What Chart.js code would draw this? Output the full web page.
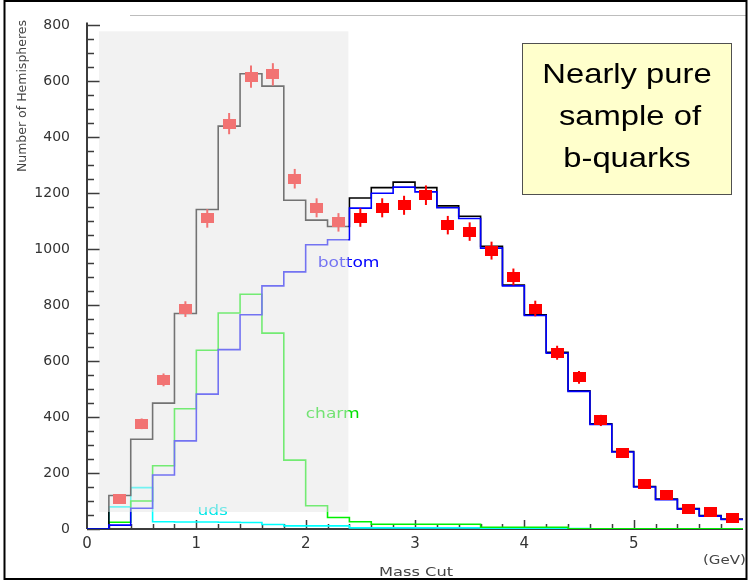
<!DOCTYPE html>
<html>
<head>
<meta charset="utf-8">
<script src="https://cdn.jsdelivr.net/npm/chart.js@4.4.1/dist/chart.umd.min.js"></script>
<style>
  html, body { margin: 0; padding: 0; background: #fff; }
  #wrap { width: 750px; height: 584px; }
</style>
</head>
<body>
<div id="wrap"><canvas id="massChart" width="750" height="584"></canvas></div>
<script>
// lower edges of the 0.2 GeV mass-cut bins, and the bin centres for the data points
const binEdges = [0.2, 0.4, 0.6, 0.8, 1.0, 1.2, 1.4, 1.6, 1.8, 2.0, 2.2, 2.4, 2.6, 2.8, 3.0,
                  3.2, 3.4, 3.6, 3.8, 4.0, 4.2, 4.4, 4.6, 4.8, 5.0, 5.2, 5.4, 5.6, 5.8];
const binCenters = [0.3, 0.5, 0.7, 0.9, 1.1, 1.3, 1.5, 1.7, 1.9, 2.1, 2.3, 2.5, 2.7, 2.9, 3.1,
                    3.3, 3.5, 3.7, 3.9, 4.1, 4.3, 4.5, 4.7, 4.9, 5.1, 5.3, 5.5, 5.7, 5.9];

// simulated histograms (hemispheres per bin)
const totalMC  = [120, 321, 450, 770, 1142, 1440, 1627, 1583, 1175, 1104, 1081, 1183, 1220, 1240, 1220,
                  1155, 1118, 1010, 872, 766, 632, 494, 376, 277, 152, 107, 73, 48, 36];
const bottomMC = [14, 74, 193, 315, 482, 641, 766, 869, 919, 1016, 1034, 1147, 1200, 1222, 1205,
                  1148, 1110, 1004, 869, 763, 628, 492, 374, 275, 150, 105, 71, 46, 34];
const charmMC  = [24, 100, 226, 430, 639, 772, 839, 700, 246, 83, 41, 26, 17, 17, 17,
                  17, 17, 6, 6, 6, 6, 1, 1, 1, 1, 1, 1, 1, 1];
const udsMC    = [79, 148, 26, 25, 25, 24, 23, 16, 11, 11, 11, 4, 4, 4, 4,
                  4, 4, 3, 2, 2, 2, 2, 1, 1, 1, 1, 1, 1, 1];

// measured data with errors
const dataCounts = [108, 376, 533, 786, 1110, 1449, 1617, 1625, 1252, 1148, 1096, 1113, 1148, 1157, 1193,
                    1086, 1063, 995, 901, 788, 630, 542, 388, 270, 161, 120, 73, 60, 38];
const dataErrors = [10, 19, 23, 28, 33, 38, 40, 40, 35, 34, 33, 33, 34, 34, 35,
                    33, 33, 32, 30, 28, 25, 23, 20, 16, 13, 11, 9, 8, 6];

// tick labels as printed (the leading "1" of the top three is cut off in the original)
const yTickValues = [0, 200, 400, 600, 800, 1000, 1200, 1400, 1600, 1800];
const yTickLabels = ['0', '200', '400', '600', '800', '1000', '1200', '400', '600', '800'];
const xTickValues = [0, 1, 2, 3, 4, 5];
const xTickLabels = ['0', '1', '2', '3', '4', '5'];

const curveNames = ['bottom', 'charm', 'uds'];

// each bin value holds from its lower edge to the next edge
function histPoints(values) {
  const pts = [{x: 0, y: 0}];
  binEdges.forEach((e, i) => pts.push({x: e, y: values[i]}));
  pts.push({x: 6, y: values[values.length - 1]});
  return pts;
}

function stretchText(ctx, text, x, y, sx, align) {
  ctx.save();
  ctx.translate(x, y);
  ctx.scale(sx, 1);
  ctx.textAlign = align;
  ctx.fillText(text, 0, 0);
  ctx.restore();
}

const marker = document.createElement('canvas');
marker.width = 13;
marker.height = 10;
const mctx = marker.getContext('2d');
mctx.fillStyle = '#ff0000';
mctx.fillRect(0, 0, 13, 10);

const AXIS = '#3c3c3c';

const decorations = {
  id: 'decorations',
  beforeDatasetsDraw(chart) {
    const {ctx, scales: {x, y}} = chart;
    ctx.save();
    const ax = x.left, ay = y.bottom;

    // axes with inward ticks (histograms are drawn over them)
    ctx.strokeStyle = AXIS;
    ctx.lineWidth = 2;
    ctx.beginPath();
    ctx.moveTo(ax, ay);
    ctx.lineTo(x.right, ay);
    ctx.moveTo(ax, ay);
    ctx.lineTo(ax, y.top - 3);
    ctx.stroke();

    ctx.lineWidth = 1.5;
    ctx.beginPath();
    for (let k = 0; k <= 36; k++) {
      const py = Math.round(y.getPixelForValue(k * 50)) + 0.5;
      ctx.moveTo(ax, py);
      ctx.lineTo(ax + (k % 4 === 0 ? 13 : 7), py);
    }
    for (let k = 1; k < 30; k++) {
      const px = Math.round(x.getPixelForValue(k * 0.2)) + 0.5;
      ctx.moveTo(px, ay);
      ctx.lineTo(px, ay - (k % 5 === 0 ? 9 : 5));
    }
    ctx.stroke();
    ctx.restore();
  },
  afterDatasetsDraw(chart) {
    const {ctx, scales: {x, y}} = chart;
    ctx.save();

    // error bars
    ctx.strokeStyle = '#ff0000';
    ctx.lineWidth = 2;
    binCenters.forEach((c, i) => {
      const px = x.getPixelForValue(c);
      ctx.beginPath();
      ctx.moveTo(px, y.getPixelForValue(dataCounts[i] - dataErrors[i]));
      ctx.lineTo(px, y.getPixelForValue(dataCounts[i] + dataErrors[i]));
      ctx.stroke();
    });

    // curve labels
    const labelPos = [[2.11, 951, '#0000ff'], [2.0, 411, '#00e000'], [1.01, 64, '#00e8e8']];
    ctx.font = '14px "DejaVu Sans"';
    ctx.textBaseline = 'middle';
    curveNames.forEach((name, i) => {
      const [lx, ly, col] = labelPos[i];
      ctx.fillStyle = col;
      stretchText(ctx, name, x.getPixelForValue(lx), y.getPixelForValue(ly), 1.22, 'left');
    });

    // grey selection region laid over the low-mass part
    const x0 = x.getPixelForValue(0.11), x1 = x.getPixelForValue(2.39);
    const y0 = y.getPixelForValue(1779), y1 = y.getPixelForValue(61);
    ctx.fillStyle = 'rgba(229,229,229,0.5)';
    ctx.fillRect(x0, y0, x1 - x0, y1 - y0);
    ctx.restore();
  },
  afterDraw(chart) {
    const {ctx} = chart;
    ctx.save();

    // axis titles
    ctx.fillStyle = '#444';
    ctx.font = '12.5px "DejaVu Sans"';
    ctx.save();
    ctx.translate(26, 20);
    ctx.rotate(-Math.PI / 2);
    ctx.textAlign = 'right';
    ctx.textBaseline = 'alphabetic';
    ctx.fillText('Number of Hemispheres', 0, 0);
    ctx.restore();

    ctx.font = '13px "DejaVu Sans"';
    ctx.textBaseline = 'alphabetic';
    stretchText(ctx, 'Mass Cut', 379, 576, 1.25, 'left');
    ctx.font = '12px "DejaVu Sans"';
    stretchText(ctx, '(GeV)', 703, 564, 1.25, 'left');

    // note box
    ctx.fillStyle = '#ffffcc';
    ctx.fillRect(522.5, 43.5, 209, 151);
    ctx.strokeStyle = '#505050';
    ctx.lineWidth = 1;
    ctx.strokeRect(522.5, 43.5, 209, 151);
    ctx.fillStyle = '#000';
    ctx.font = '28px "Liberation Sans", Arial, sans-serif';
    stretchText(ctx, 'Nearly pure', 627, 83, 1.17, 'center');
    stretchText(ctx, 'sample of', 630, 125, 1.17, 'center');
    stretchText(ctx, 'b-quarks', 627, 166.5, 1.17, 'center');

    // outer frame
    ctx.strokeStyle = '#bdbdbd';
    ctx.beginPath();
    ctx.moveTo(130, 15.5);
    ctx.lineTo(746, 15.5);
    ctx.stroke();
    ctx.strokeStyle = '#000';
    ctx.lineWidth = 2;
    ctx.strokeRect(4.5, 1, 742, 578);
    ctx.restore();
  }
};

const histStyle = { stepped: 'before', borderWidth: 1.6, pointRadius: 0, fill: false };

new Chart(document.getElementById('massChart'), {
  data: {
    datasets: [
      {
        type: 'scatter',
        label: 'Data',
        data: binCenters.map((c, i) => ({x: c, y: dataCounts[i]})),
        pointStyle: marker,
        pointRadius: 6,
        order: 0
      },
      { type: 'line', label: 'bottom', data: histPoints(bottomMC), borderColor: '#0000ff', order: 1, ...histStyle },
      { type: 'line', label: 'total', data: histPoints(totalMC), borderColor: '#000000', order: 2, ...histStyle },
      { type: 'line', label: 'charm', data: histPoints(charmMC), borderColor: '#00f000', order: 3, ...histStyle },
      { type: 'line', label: 'uds', data: histPoints(udsMC), borderColor: '#00ffff', order: 4, ...histStyle }
    ]
  },
  options: {
    responsive: false,
    animation: false,
    devicePixelRatio: 1,
    layout: { padding: { top: 20, right: 2, left: 0, bottom: 0 } },
    plugins: {
      legend: { display: false },
      tooltip: { enabled: false }
    },
    scales: {
      x: {
        type: 'linear',
        min: 0,
        max: 6,
        grid: { display: false, drawTicks: false },
        border: { display: false },
        afterBuildTicks: s => { s.ticks = xTickValues.map(v => ({value: v})); },
        afterFit: s => { s.height = 55; },
        ticks: {
          autoSkip: false,
          maxRotation: 0,
          padding: 6,
          color: '#333',
          font: { family: 'DejaVu Sans', size: 15 },
          callback: (v, i) => xTickLabels[i]
        }
      },
      y: {
        min: 0,
        max: 1800,
        grid: { display: false, drawTicks: false },
        border: { display: false },
        afterBuildTicks: s => { s.ticks = yTickValues.map(v => ({value: v})); },
        afterFit: s => { s.width = 87; },
        ticks: {
          autoSkip: false,
          padding: 17,
          color: '#333',
          font: { family: 'DejaVu Sans', size: 14 },
          callback: (v, i) => yTickLabels[i]
        }
      }
    }
  },
  plugins: [decorations]
});
</script>
</body>
</html>
